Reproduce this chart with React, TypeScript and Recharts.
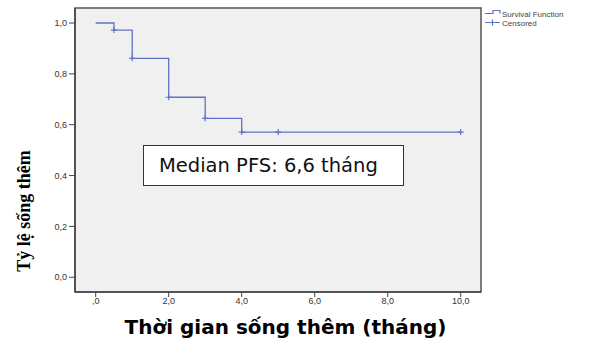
import React from 'react';
import { ComposedChart, Line, Scatter, XAxis, YAxis, ReferenceArea } from 'recharts';

const times = [0, 0.5, 1, 2, 3, 4, 10];
const survival = [1.0, 0.972, 0.861, 0.708, 0.625, 0.571, 0.571];
const censorTimes = [0.5, 1, 2, 3, 4, 5, 10];
const censorValues = [0.972, 0.861, 0.708, 0.625, 0.571, 0.571, 0.571];
const xTicks = [0, 2, 4, 6, 8, 10];
const yTicks = [0, 0.2, 0.4, 0.6, 0.8, 1.0];
const legendLabels = ['Survival Function', 'Censored'];
const medianText = 'Median PFS: 6,6 tháng';
const xLabel = 'Thời gian sống thêm (tháng)';
const yLabel = 'Tỷ lệ sống thêm';

const X_MIN = -0.567;
const X_MAX = 10.556;
const Y_MIN = -0.058;
const Y_MAX = 1.059;

const lineData = times.map((t, i) => ({ t, s: survival[i] }));
const censorData = censorTimes.map((t, i) => ({ t, s: censorValues[i] }));

const BLUE = '#5f72c4';

const fmtX = (v: number) => (v === 0 ? ',0' : v.toFixed(1).replace('.', ','));
const fmtY = (v: number) => v.toFixed(1).replace('.', ',');

const Cross = (props: any) => {
  const { cx, cy } = props;
  return <path d={`M${cx - 3},${cy}h6M${cx},${cy - 3}v6`} stroke={BLUE} strokeWidth={1.2} fill="none" />;
};

const tickStyle = { fontSize: 9, fill: '#333', fontFamily: 'Liberation Sans, Arial, sans-serif' };

export default function App() {
  return (
    <div style={{ position: 'absolute', left: 0, top: 0, width: 592, height: 342, background: '#fff' }}>
      <ComposedChart width={592} height={342} margin={{ top: 8, right: 111, bottom: 30, left: 30 }}>
        <XAxis
          type="number"
          dataKey="t"
          domain={[X_MIN, X_MAX]}
          ticks={xTicks}
          tickFormatter={fmtX}
          allowDataOverflow
          height={20}
          tick={tickStyle}
          tickSize={5}
          tickMargin={1}
          axisLine={{ stroke: '#444', strokeWidth: 1.5 }}
          tickLine={{ stroke: '#444' }}
        />
        <YAxis
          type="number"
          dataKey="s"
          domain={[Y_MIN, Y_MAX]}
          ticks={yTicks}
          tickFormatter={fmtY}
          allowDataOverflow
          width={45}
          tick={tickStyle}
          tickSize={6}
          tickMargin={2}
          axisLine={{ stroke: '#444', strokeWidth: 1.5 }}
          tickLine={{ stroke: '#444' }}
        />
        <ReferenceArea x1={X_MIN} x2={X_MAX} y1={Y_MIN} y2={Y_MAX} fill="#f0f0f0" fillOpacity={1} stroke="#555" strokeWidth={1.5} />
        <Line
          data={lineData}
          dataKey="s"
          type="stepAfter"
          stroke={BLUE}
          strokeWidth={1.3}
          dot={false}
          isAnimationActive={false}
        />
        <Scatter data={censorData} dataKey="s" shape={<Cross />} isAnimationActive={false} />
      </ComposedChart>

      <svg width={110} height={30} style={{ position: 'absolute', left: 482, top: 6 }}>
        <path d="M3,7.5h8v-3h7v3" stroke={BLUE} strokeWidth={1.2} fill="none" />
        <path d="M3,16.5h15M10.5,13.5v6" stroke={BLUE} strokeWidth={1.2} fill="none" />
        <text x={20} y={10.5} fontSize={8} fill="#444" fontFamily="Liberation Sans, Arial, sans-serif">{legendLabels[0]}</text>
        <text x={20} y={19.5} fontSize={8} fill="#444" fontFamily="Liberation Sans, Arial, sans-serif">{legendLabels[1]}</text>
      </svg>

      <div
        style={{
          position: 'absolute',
          left: 143,
          top: 145,
          width: 261,
          height: 41,
          border: '1px solid #333',
          background: '#fff',
          fontFamily: 'DejaVu Sans, Verdana, sans-serif',
          fontSize: 19.5,
          lineHeight: '39px',
          paddingLeft: 15,
          boxSizing: 'border-box',
          color: '#111',
          whiteSpace: 'nowrap',
        }}
      >
        {medianText}
      </div>

      <div
        style={{
          position: 'absolute',
          left: 0,
          top: 315,
          width: 571,
          textAlign: 'center',
          fontFamily: 'DejaVu Sans, Verdana, sans-serif',
          fontWeight: 'bold',
          fontSize: 20,
          color: '#000',
          whiteSpace: 'nowrap',
        }}
      >
        {xLabel}
      </div>

      <svg width={40} height={342} style={{ position: 'absolute', left: 0, top: 0 }}>
        <text
          x={0}
          y={0}
          transform="translate(30,211) rotate(-90)"
          textAnchor="middle"
          fontFamily="Liberation Serif, Times New Roman, serif"
          fontWeight="bold"
          fontSize={18}
          fill="#000"
        >
          {yLabel}
        </text>
      </svg>
    </div>
  );
}
